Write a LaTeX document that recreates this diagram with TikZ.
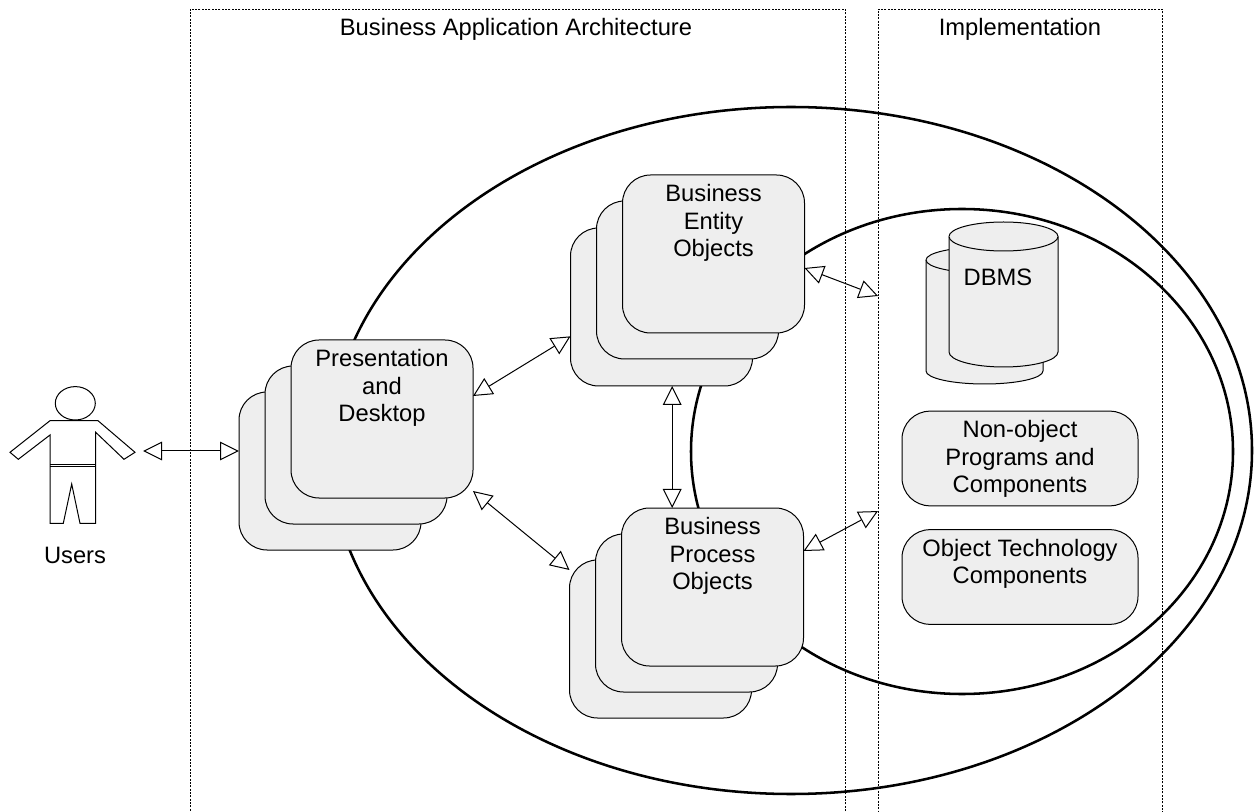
\documentclass[tikz,border=0pt]{standalone}
\usepackage{fontspec}
\setmainfont{Liberation Sans}
\usetikzlibrary{arrows.meta,positioning}
\definecolor{panelgray}{HTML}{EEEEEE}
\tikzset{
  frameline/.style={draw,line width=0.5pt,dash pattern=on 1.5pt off 1pt,inner sep=0pt,outer sep=0pt,minimum height=605.25pt},
  ringline/.style={line width=1.9pt},
  panel/.style={draw,fill=panelgray,line width=0.75pt,rounded corners=21pt,inner sep=0pt,outer sep=0pt,minimum width=136.5pt,minimum height=118.5pt},
  widepanel/.style={panel,minimum width=177pt,minimum height=71pt},
  cyl/.style={draw,fill=panelgray,line width=0.75pt},
  figure/.style={line width=0.75pt},
  link/.style={line width=0.75pt,<->,>={Triangle[open,length=14.25pt,width=14pt,fill=white]}},
  label/.style={font=\fontsize{17.8}{20.6}\selectfont,align=center,inner sep=0pt},
  toplabel/.style={label,anchor=north}
}
\begin{document}
\begin{tikzpicture}[x=0.75pt,y=0.75pt,yscale=-1,xscale=1]
  \useasboundingbox (0,0) rectangle (1256,812);
  %Shape: Frames
  \node [frameline,minimum width=491.25pt] (archframe) at (517.5,412.5) {};
  \node [frameline,minimum width=213pt] (implframe) at (1020,412.5) {};
  % Text Node
  \node [label] (archtitle) at (516,29) {Business Application Architecture};
  \node [label] (impltitle) at (1020,29) {Implementation};
  %Shape: Ellipse
  \draw [ringline] (791,450.5) ellipse [x radius=461,y radius=343.5];
  \draw [ringline] (962,451.5) ellipse [x radius=271,y radius=242.5];

  %Shape: User
  \draw [figure] (75.3,403.3) ellipse [x radius=20,y radius=16.7];
  \draw [figure] (50,420.7) -- (98,420.7) -- (135,452.3) -- (124,459.3) -- (95.7,432.3) -- (95.7,523.3) -- (80,523.3) -- (71.7,484) -- (63.3,523.3) -- (50,523.3) -- (50,435) -- (18.3,459.3) -- (10,452.3) -- cycle;
  \draw [figure] (50,464.3) -- (95.7,464.3) (50,466.7) -- (95.7,466.7);
  \node [label] (users) at (75,555) {Users};
  \coordinate (userhand) at (143,451);

  %Shape: Presentation stack
  \node [panel] (presback) at (330,471) {};
  \node [panel] (presmid) at (356,445) {};
  \node [panel] (presfront) at (382,419) {};
  \node [toplabel,below=7pt of presfront.north] (prestext) {Presentation\\and\\Desktop};
  %Shape: Entity stack
  \node [panel] (entityback) at (661.5,307) {};
  \node [panel] (entitymid) at (687.5,280) {};
  \node [panel] (entityfront) at (713.5,254) {};
  \node [toplabel,below=7pt of entityfront.north] (entitytext) {Business\\Entity\\Objects};
  %Shape: Process stack
  \node [panel] (processback) at (660.5,639) {};
  \node [panel] (processmid) at (686.5,613) {};
  \node [panel] (processfront) at (712.5,587) {};
  \node [toplabel,below=7pt of processfront.north] (processtext) {Business\\Process\\Objects};

  %Shape: DBMS cylinders
  \draw [cyl] (926,260) -- (926,371) arc [start angle=180,end angle=0,x radius=58.5,y radius=13] -- (1043,260) arc [start angle=0,end angle=-180,x radius=58.5,y radius=13] -- cycle;
  \draw [cyl] (926,260) arc [start angle=180,end angle=0,x radius=58.5,y radius=13];
  \draw [cyl] (949,236.5) -- (949,352) arc [start angle=180,end angle=0,x radius=54.5,y radius=15] -- (1058,236.5) arc [start angle=0,end angle=-180,x radius=54.5,y radius=14.5] -- cycle;
  \draw [cyl] (949,236.5) arc [start angle=180,end angle=0,x radius=54.5,y radius=14.5];
  \node [label] (dbms) at (998,277) {DBMS};

  %Shape: Implementation panels
  \node [widepanel] (nonobject) at (1020,458.5) {};
  \node [toplabel,below=7pt of nonobject.north] (nonobjecttext) {Non-object\\Programs and\\Components};
  \node [widepanel] (objecttech) at (1020,577) {};
  \node [toplabel,below=7pt of objecttech.north] (objecttechtext) {Object Technology\\Components};

  %Straight Lines
  \draw [link] (userhand) -- (presback.west |- userhand);
  \draw [link] ([yshift=-17.25pt]presfront.east) -- ([yshift=22pt]entityback.west);
  \draw [link] ([yshift=54pt]presfront.east) -- ([yshift=-51.75pt]processback.west);
  \coordinate (midlink) at ([xshift=8pt]entityback.south);
  \draw [link] (midlink) -- (midlink |- processfront.north);
  \draw [link] ([yshift=10.5pt]entityfront.east) -- ([yshift=-87.4pt]implframe.west);
  \draw [link] ([yshift=-27pt]processfront.east) -- ([yshift=73.9pt]implframe.west);
\end{tikzpicture}
\end{document}
